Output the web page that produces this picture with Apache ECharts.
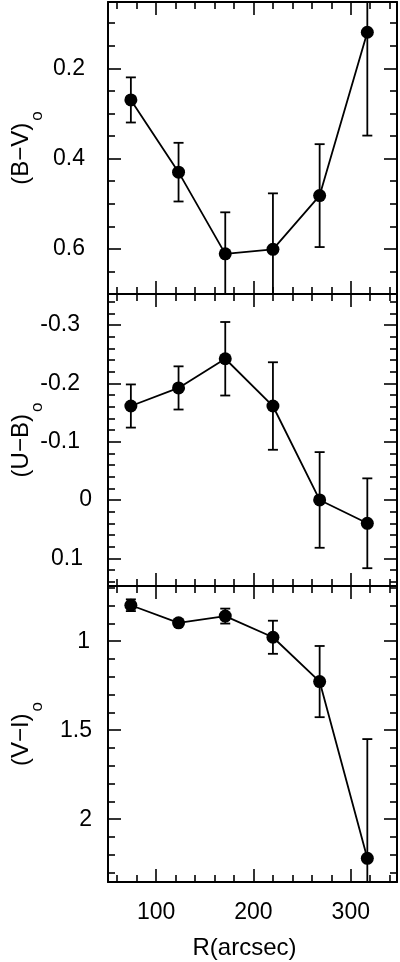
<!DOCTYPE html>
<html><head><meta charset="utf-8">
<script src="https://cdn.jsdelivr.net/npm/echarts@6/dist/echarts.min.js"></script>
<style>html,body{margin:0;padding:0;background:#fff}#c{width:400px;height:962px}</style>
</head><body><div id="c"></div>
<script>
// ---- data ----
const R = [74, 123, 171, 220, 268, 317];
const BV = [0.270, 0.430, 0.611, 0.601, 0.482, 0.120];
const BV_ERR = [0.050, 0.065, 0.092, 0.124, 0.114, 0.229];
const UB = [-0.161, -0.192, -0.242, -0.161, 0.000, 0.040];
const UB_ERR = [0.037, 0.037, 0.063, 0.075, 0.082, 0.077];
const VI = [0.798, 0.897, 0.859, 0.978, 1.227, 2.220];
const VI_ERR = [0.033, 0.012, 0.042, 0.093, 0.200, 0.670];

// ---- ticks / labels ----
const X_MAJOR = [100, 200, 300];
const X_MINOR = [60, 80, 120, 140, 160, 180, 220, 240, 260, 280, 320, 340];
const BV_MAJOR = [0.2, 0.4, 0.6];
const BV_MINOR = [0.1, 0.15, 0.25, 0.3, 0.35, 0.45, 0.5, 0.55, 0.65];
const UB_MAJOR = [-0.3, -0.2, -0.1, 0, 0.1];
const UB_MINOR = [-0.34, -0.32, -0.28, -0.26, -0.24, -0.22, -0.18, -0.16, -0.14, -0.12,
                  -0.08, -0.06, -0.04, -0.02, 0.02, 0.04, 0.06, 0.08, 0.12, 0.14];
const VI_MAJOR = [1, 1.5, 2];
const VI_MINOR = [0.7, 0.8, 0.9, 1.1, 1.2, 1.3, 1.4, 1.6, 1.7, 1.8, 1.9, 2.1, 2.2, 2.3];
const Y_TITLES = ['(B−V)', '(U−B)', '(V−I)'];
const Y_SUB = 'o';
const X_TITLE = 'R(arcsec)';

// ---- layout ----
const FONT = '"Liberation Sans", Arial, Helvetica, sans-serif';
const X_RANGE = [50.5, 347.5];
const panels = [
  {top: 2,   height: 292, min: 0.053, max: 0.700, major: BV_MAJOR, minor: BV_MINOR, vals: BV, errs: BV_ERR, margin: 23, pads: {}},
  {top: 294, height: 292, min: -0.353, max: 0.1475, major: UB_MAJOR, minor: UB_MINOR, vals: UB, errs: UB_ERR, margin: 16,
   pads: {'-0.3': 12, '-0.2': 12, '-0.1': 12, '0.1': 9}},
  {top: 586, height: 296, min: 0.690, max: 2.353, major: VI_MAJOR, minor: VI_MINOR, vals: VI, errs: VI_ERR, margin: 16, pads: {'1': 2}}
];
const MAJ = 13, MIN = 7;
const TICK_FS = 23;
const lineStyle = {color: '#000', width: 2};

const grid = panels.map(p => ({left: 108, right: 3, top: p.top, height: p.height,
                               containLabel: false, outerBoundsMode: 'none'}));
const xAxis = [], yAxis = [], series = [];

panels.forEach((p, i) => {
  const isLast = i === panels.length - 1;
  const xBase = {type: 'value', gridIndex: i, min: X_RANGE[0], max: X_RANGE[1], splitLine: {show: false}};
  const mkX = (pos, major, line, labels) => Object.assign({}, xBase, {
    position: pos,
    axisLine: {show: line, onZero: false, lineStyle},
    axisTick: {show: true, inside: true, length: major ? MAJ : MIN, customValues: major ? X_MAJOR : X_MINOR,
               lineStyle: {color: '#000', width: 1.6}},
    axisLabel: labels ? {show: true, customValues: X_MAJOR, margin: 19, color: '#000', fontSize: TICK_FS, fontFamily: FONT,
                         formatter: v => String(v)} : {show: false},
    name: labels ? X_TITLE : '',
    nameLocation: 'middle', nameGap: 54, nameMoveOverlap: false,
    nameTextStyle: {color: '#000', fontSize: 24, fontFamily: FONT, padding: [0, 16, 0, 0]}
  });
  xAxis.push(mkX('bottom', true, true, isLast));
  xAxis.push(mkX('bottom', false, false, false));
  xAxis.push(mkX('top', true, true, false));
  xAxis.push(mkX('top', false, false, false));

  const yBase = {type: 'value', gridIndex: i, min: p.min, max: p.max, inverse: true, splitLine: {show: false}};
  const rich = {};
  [0, 2, 9, 12].forEach(v => { rich['p' + v] = {padding: [0, v, 0, 0], fontSize: TICK_FS, fontFamily: FONT, color: '#000'}; });
  const mkY = (pos, major, line, labels) => Object.assign({}, yBase, {
    position: pos,
    axisLine: {show: line, onZero: false, lineStyle},
    axisTick: {show: true, inside: true, length: major ? MAJ : MIN, customValues: major ? p.major : p.minor,
               lineStyle: {color: '#000', width: 1.6}},
    axisLabel: labels ? {show: true, customValues: p.major, margin: p.margin, color: '#000', fontSize: TICK_FS, fontFamily: FONT,
                         formatter: v => { const s = String(v); const pd = p.pads[s] || 0; return '{p' + pd + '|' + s + '}'; },
                         rich} : {show: false},
    name: labels ? '{m|' + Y_TITLES[i] + '}{s|' + Y_SUB + '}' : '',
    nameLocation: 'middle', nameGap: 62, nameRotate: 90, nameMoveOverlap: false,
    nameTextStyle: {color: '#000', fontFamily: FONT,
      rich: {
        m: {fontSize: 24, lineHeight: 26, verticalAlign: 'top', color: '#000', fontFamily: FONT, padding: [0, 2, 0, 0]},
        s: {fontSize: 17, lineHeight: 37, verticalAlign: 'bottom', color: '#000', fontFamily: FONT}
      }}
  });
  yAxis.push(mkY('left', true, true, true));
  yAxis.push(mkY('left', false, false, false));
  yAxis.push(mkY('right', true, true, false));
  yAxis.push(mkY('right', false, false, false));

  series.push({
    type: 'custom', xAxisIndex: 4 * i, yAxisIndex: 4 * i, clip: true, z: 2,
    data: R.map((r, k) => [r, p.vals[k], p.errs[k]]),
    encode: {x: 0, y: 1},
    renderItem: (params, api) => {
      const x = api.value(0), v = api.value(1), e = api.value(2);
      const cs = params.coordSys;
      const a = api.coord([x, v - e]), b = api.coord([x, v + e]);
      const yTop = Math.min(a[1], b[1]), yBot = Math.max(a[1], b[1]);
      const top = cs.y, bot = cs.y + cs.height;
      const st = {stroke: '#000', lineWidth: 1.8};
      const ch = [{type: 'line', shape: {x1: a[0], y1: Math.max(yTop, top), x2: a[0], y2: Math.min(yBot, bot)}, style: st}];
      if (yTop >= top) ch.push({type: 'line', shape: {x1: a[0] - 5, y1: yTop, x2: a[0] + 5, y2: yTop}, style: st});
      if (yBot <= bot) ch.push({type: 'line', shape: {x1: a[0] - 5, y1: yBot, x2: a[0] + 5, y2: yBot}, style: st});
      return {type: 'group', children: ch};
    }
  });
  series.push({
    type: 'line', xAxisIndex: 4 * i, yAxisIndex: 4 * i, z: 3,
    data: R.map((r, k) => [r, p.vals[k]]),
    symbol: 'circle', symbolSize: 13,
    itemStyle: {color: '#000'},
    lineStyle: {color: '#000', width: 1.8}
  });
});

const chart = echarts.init(document.getElementById('c'), null, {renderer: 'canvas'});
chart.setOption({animation: false, backgroundColor: '#fff', grid, xAxis, yAxis, series});
</script>
</body></html>
